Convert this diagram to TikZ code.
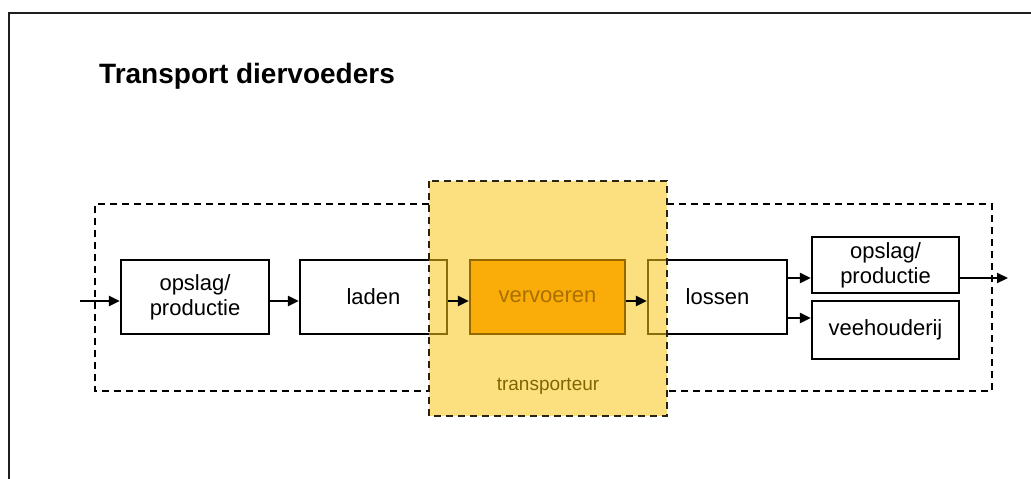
\documentclass[tikz,border=0pt]{standalone}
\usepackage{fontspec}
\setmainfont{Liberation Sans}
\usetikzlibrary{arrows.meta}

\definecolor{frame}{HTML}{1E1E1E}
\definecolor{zoneyellow}{RGB}{251,199,24}
\definecolor{zoneborder}{HTML}{2A2410}
\definecolor{orangefill}{RGB}{250,172,8}
\definecolor{orangeline}{RGB}{150,104,0}
\definecolor{orangetext}{RGB}{168,112,0}
\definecolor{oliveText}{RGB}{130,100,0}

\tikzset{
  stepbox/.style={draw=black, line width=2.2pt, align=center,
    inner sep=0pt, font=\fontsize{22}{25}\selectfont},
  flow/.style={line width=2.2pt, -{Triangle[length=11pt,width=10pt]}},
  dashframe/.style={line width=2pt, dash pattern=on 7pt off 5pt},
}

\begin{document}
\begin{tikzpicture}[x=1pt, y=-1pt]
\useasboundingbox (0,0) rectangle (1031,479);
\fill[white] (0,0) rectangle (1031,479);

% page frame
\draw[frame, line width=2.6pt] (9,479) -- (9,13) -- (1031,13);

% title
\node[anchor=base west, inner sep=0pt,
  font=\fontsize{28}{32}\selectfont\bfseries] (title) at (99,83)
  {Transport diervoeders};

% dashed system boundary, left and right of the carrier zone
\draw[dashframe] (429,204) -- (95,204) -- (95,391) -- (429,391);
\draw[dashframe] (667,204) -- (992,204) -- (992,391) -- (667,391);

% process steps outside the carrier zone
\node[stepbox, minimum width=148pt, minimum height=74pt] (op1) at (195,297) {opslag/\\productie};
\node[stepbox, minimum width=147pt, minimum height=74pt] (laden) at (373.5,297) {laden};
\node[stepbox, minimum width=139pt, minimum height=74pt] (lossen) at (717.5,297) {lossen};
\node[stepbox, minimum width=147pt, minimum height=56pt] (op2) at (885.5,265) {opslag/\\productie};
\node[stepbox, minimum width=147pt, minimum height=58pt] (vee) at (885.5,330) {veehouderij};

% carrier zone (translucent, over the loading and unloading steps)
\fill[zoneyellow, fill opacity=0.55] (429,181) rectangle (667,416);
\draw[zoneborder, dashframe] (429,181) rectangle (667,416);
\node[text=oliveText, font=\fontsize{19}{22}\selectfont] (carrier) at (548,386) {transporteur};

% transport step
\node[stepbox, draw=orangeline, fill=orangefill, text=orangetext,
  minimum width=155pt, minimum height=74pt] (verv) at (547.5,297) {vervoeren};

% connectors
\coordinate (in) at (80,301);
\coordinate (out) at (1008,278);
\coordinate (a1) at ([yshift=-13pt]op2.west);
\coordinate (a2) at ([yshift=12pt]vee.west);

\draw[flow] (in) -- (in -| op1.west);
\draw[flow] ([yshift=-4pt]op1.east) -- ([yshift=-4pt]laden.west);
\draw[flow] ([yshift=-4pt]laden.east) -- ([yshift=-4pt]verv.west);
\draw[flow] ([yshift=-4pt]verv.east) -- ([yshift=-4pt]lossen.west);
\draw[flow] (lossen.east |- a1) -- (a1);
\draw[flow] (lossen.east |- a2) -- (a2);
\draw[flow] (op2.east |- out) -- (out);
\end{tikzpicture}
\end{document}
